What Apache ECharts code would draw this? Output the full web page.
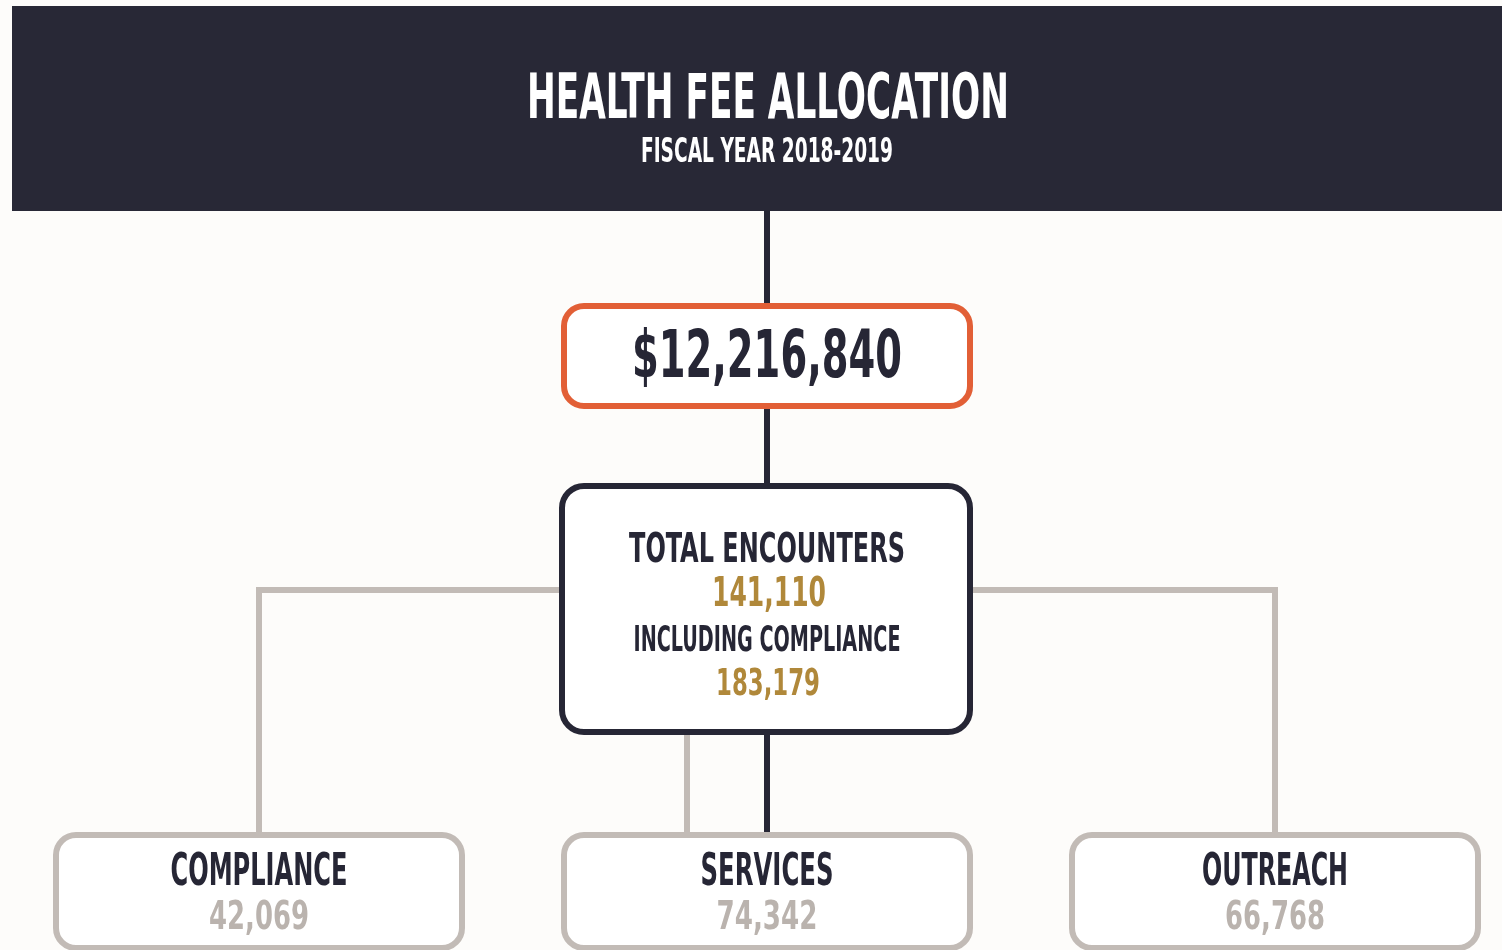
<!DOCTYPE html>
<html>
<head>
<meta charset="utf-8">
<script src="https://cdn.jsdelivr.net/npm/echarts@6/dist/echarts.min.js"></script>
<style>
html,body{margin:0;padding:0;background:#fdfcfa;}
#chart{width:1502px;height:950px;}
</style>
</head>
<body>
<div id="chart"></div>
<script>
// ---- data ----
const titleText = 'HEALTH FEE ALLOCATION';
const subtitleText = 'FISCAL YEAR 2018-2019';
const totalFunding = [12216840];
const encounterLabels = ['TOTAL ENCOUNTERS', 'INCLUDING COMPLIANCE'];
const encounterValues = [141110, 183179];
const categories = ['COMPLIANCE', 'SERVICES', 'OUTREACH'];
const categoryValues = [42069, 74342, 66768];

// ---- style ----
const C = {
  bg: '#fdfcfa', header: '#282836', dark: '#262635', orange: '#e25f36',
  gold: '#b0883a', gray: '#c2bbb6', grayText: '#bab3ae', white: '#ffffff'
};
const FONT = '"Liberation Sans Narrow", "DejaVu Sans Condensed", sans-serif';
const mctx = document.createElement('canvas').getContext('2d');
const fmt = v => echarts.format.addCommas(v);

function fitText(str, cx, cy, cap, width, color) {
  const fs = cap / 0.76;
  mctx.font = 'bold ' + fs + 'px ' + FONT;
  const w = mctx.measureText(str).width;
  return {
    type: 'text', x: cx, y: cy + fs * 0.085, scaleX: width / w, z: 10,
    style: {
      text: str, fontSize: fs, fontFamily: FONT, fontWeight: 'bold', fill: color,
      align: 'center', verticalAlign: 'middle', textAlign: 'center', textVerticalAlign: 'middle'
    }
  };
}
function box(x1, y1, x2, y2, stroke, lw, r) {
  return {
    type: 'rect', z: 5,
    shape: { x: x1 + lw / 2, y: y1 + lw / 2, width: x2 - x1 - lw, height: y2 - y1 - lw, r: r },
    style: { fill: C.white, stroke: stroke, lineWidth: lw }
  };
}
function pline(points, stroke, lw) {
  return { type: 'polyline', z: 1, shape: { points: points }, style: { stroke: stroke, lineWidth: lw, fill: null, lineJoin: 'miter' } };
}

const cxMid = 767;
const catCenters = [259, 767, 1275];
const catTitleW = [177, 133, 146];
const catValW = [100, 101, 100];

const g = [];
// header
g.push({ type: 'rect', z: 0, shape: { x: 12, y: 6, width: 1490, height: 205 }, style: { fill: C.header } });
g.push(fitText(titleText, cxMid + 1, 96.5, 47, 482, '#ffffff'));
g.push(fitText(subtitleText, cxMid, 150.5, 25, 252, '#ffffff'));

// connectors
g.push(pline([[cxMid, 211], [cxMid, 310]], C.dark, 6));
g.push(pline([[cxMid, 400], [cxMid, 490]], C.dark, 6));
g.push(pline([[cxMid, 725], [cxMid, 832]], C.dark, 6));
g.push(pline([[565, 590], [catCenters[0], 590], [catCenters[0], 840]], C.gray, 6));
g.push(pline([[968, 590], [catCenters[2], 590], [catCenters[2], 840]], C.gray, 6));
g.push(pline([[687, 725], [687, 840]], C.gray, 6));

// funding box
g.push(box(561, 303, 973, 409, C.orange, 6, 20));
g.push(fitText('$' + fmt(totalFunding[0]), cxMid, 354, 50, 270, C.dark));

// encounters box
g.push(box(559, 483, 973, 735, C.dark, 6, 22));
g.push(fitText(encounterLabels[0], cxMid, 547.5, 31, 276, C.dark));
g.push(fitText(fmt(encounterValues[0]), cxMid + 2, 591.5, 31, 114, C.gold));
g.push(fitText(encounterLabels[1], cxMid, 638.5, 27, 267, C.dark));
g.push(fitText(fmt(encounterValues[1]), cxMid + 1, 681.5, 29, 104, C.gold));

// category boxes
categories.forEach((name, i) => {
  const cx = catCenters[i];
  g.push(box(cx - 206, 832, cx + 206, 951, C.gray, 6, 20));
  g.push(fitText(name, cx, 870, 34, catTitleW[i], C.dark));
  g.push(fitText(fmt(categoryValues[i]), cx, 915, 30, catValW[i], C.grayText));
});

const chart = echarts.init(document.getElementById('chart'), null, { renderer: 'canvas' });
chart.setOption({ backgroundColor: C.bg, animation: false, graphic: { elements: g } });
</script>
</body>
</html>
